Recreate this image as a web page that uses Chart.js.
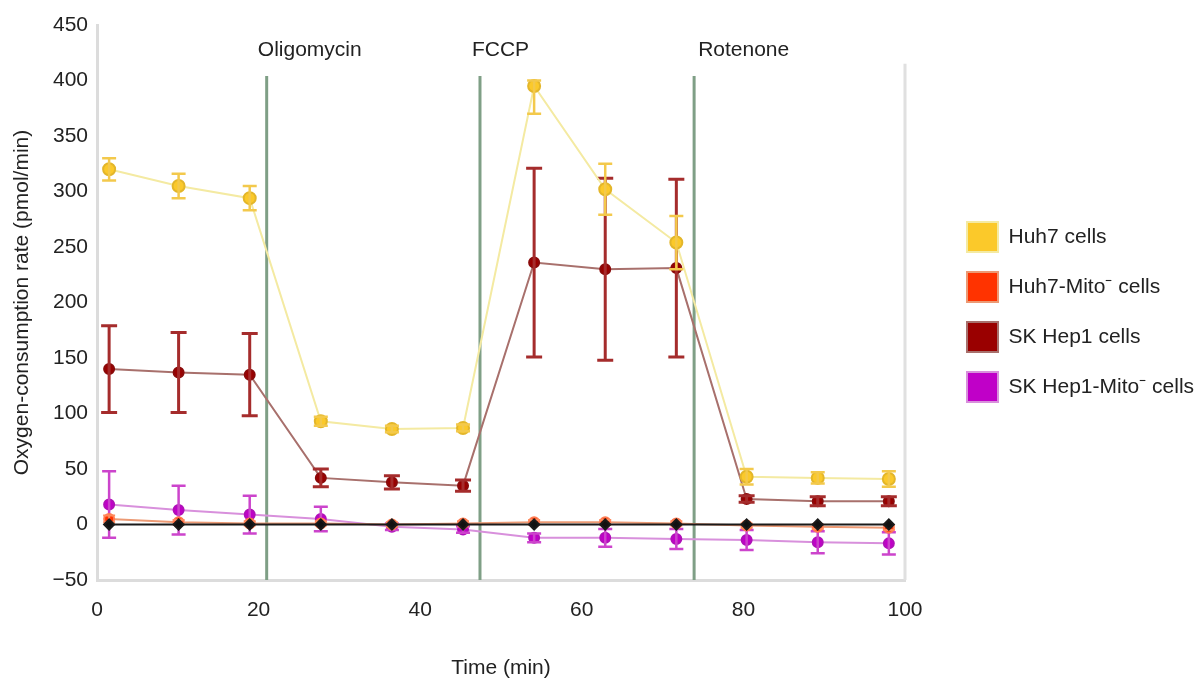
<!DOCTYPE html>
<html>
<head>
<meta charset="utf-8">
<script src="https://cdn.jsdelivr.net/npm/chart.js@4.4.1/dist/chart.umd.min.js"></script>
<style>
  html, body { margin: 0; padding: 0; background: #fff; }
  #wrap { width: 1201px; height: 681px; }
</style>
</head>
<body>
<div id="wrap"><canvas id="chart" width="1201" height="681"></canvas></div>
<script>
// measurement times (min)
const times = [1.5, 10.1, 18.9, 27.7, 36.5, 45.3, 54.1, 62.9, 71.7, 80.4, 89.2, 98.0];

// oxygen consumption (pmol/min) and error bars
const huh7 = [320, 305, 294, 93, 86, 87, 395, 302, 254, 43, 42, 41];
const huh7ErrLow = [10, 11, 11, 4, 3, 3, 25, 23, 24, 7, 5, 7];
const huh7ErrHigh = [10, 11, 11, 4, 3, 3, 5, 23, 24, 7, 5, 7];

const huh7Mito = [5, 2, 1, 1, 0, 1, 2, 2, 1, -1, -2, -3];
const huh7MitoErr = [3, 2, 2, 2, 2, 2, 2, 2, 2, 2, 2, 2];

const skHep1 = [140, 137, 135, 42, 38, 35, 236, 230, 231, 23, 21, 21];
const skHep1Err = [39, 36, 37, 8, 6, 5, 85, 82, 80, 3, 4, 4];

const skHep1Mito = [18, 13, 9, 5, -2, -4.5, -12, -12, -13, -14, -16, -17];
const skHep1MitoErr = [30, 22, 17, 11, 3, 3, 4, 8, 9, 9, 10, 10];

const blank = [0, 0, 0, 0, 0, 0, 0, 0, 0, 0, 0, 0];

// injections
const injectionNames = ["Oligomycin", "FCCP", "Rotenone"];
const injectionTimes = [21.0, 47.4, 73.9];
const injectionLabelTimes = [19.9, 46.4, 74.4];

const FONT = '"Liberation Sans", Arial, sans-serif';

const toPoints = vals => vals.map((v, i) => ({ x: times[i], y: v }));

// vertical error bars, drawn through the scales
const errorBars = {
  id: "errorBars",
  afterDatasetDraw(chart, args) {
    const ds = chart.data.datasets[args.index];
    if (!ds.errLow) return;
    const { ctx } = chart;
    const y = chart.scales.y;
    ctx.save();
    ctx.strokeStyle = ds.errColor;
    ctx.lineWidth = ds.errWidth;
    args.meta.data.forEach((pt, i) => {
      const v = ds.data[i].y;
      const top = y.getPixelForValue(v + ds.errHigh[i]);
      const bot = y.getPixelForValue(v - ds.errLow[i]);
      const w = ds.capWidth / 2;
      ctx.beginPath();
      ctx.moveTo(pt.x, top); ctx.lineTo(pt.x, bot);
      ctx.moveTo(pt.x - w, top); ctx.lineTo(pt.x + w, top);
      ctx.moveTo(pt.x - w, bot); ctx.lineTo(pt.x + w, bot);
      ctx.stroke();
    });
    ctx.restore();
  }
};

// injection markers + right frame line
const injections = {
  id: "injections",
  beforeDatasetsDraw(chart) {
    const { ctx, chartArea, scales: { x, y } } = chart;
    ctx.save();
    ctx.strokeStyle = "#e0e0e0";
    ctx.lineWidth = 3;
    ctx.beginPath();
    ctx.moveTo(chartArea.right, y.getPixelForValue(415));
    ctx.lineTo(chartArea.right, chartArea.bottom);
    ctx.stroke();

    ctx.strokeStyle = "#7f9f86";
    ctx.lineWidth = 3;
    injectionTimes.forEach(t => {
      const px = x.getPixelForValue(t);
      ctx.beginPath();
      ctx.moveTo(px, y.getPixelForValue(404));
      ctx.lineTo(px, chartArea.bottom);
      ctx.stroke();
    });
    ctx.fillStyle = "#222";
    ctx.font = "21px " + FONT;
    ctx.textBaseline = "middle";
    ctx.textAlign = "left";
    injectionNames.forEach((name, i) => {
      ctx.fillText(name, x.getPixelForValue(injectionLabelTimes[i]), y.getPixelForValue(427));
    });
    ctx.restore();
  }
};

const ctx = document.getElementById("chart").getContext("2d");

new Chart(ctx, {
  type: "line",
  data: {
    datasets: [
      {
        label: "Huh7 cells",
        data: toPoints(huh7),
        errLow: huh7ErrLow, errHigh: huh7ErrHigh,
        errColor: "#f3c94c", errWidth: 2.5, capWidth: 14,
        borderColor: "#f4eaa2",
        backgroundColor: "#fbc92a",
        pointBorderColor: "#e3b62a",
        pointRadius: 6,
        borderWidth: 2
      },
      {
        label: "Background",
        data: toPoints(blank),
        borderColor: "#1a1a1a",
        backgroundColor: "#111",
        pointStyle: "rectRot",
        pointRadius: 5,
        borderWidth: 2
      },
      {
        label: "Huh7-Mito\u207B cells",
        data: toPoints(huh7Mito),
        errLow: huh7MitoErr, errHigh: huh7MitoErr,
        errColor: "#ff8a5c", errWidth: 2, capWidth: 12,
        borderColor: "#ec9a74",
        backgroundColor: "#ff3300",
        pointBorderColor: "#ff7a50",
        pointRadius: 5,
        borderWidth: 2
      },
      {
        label: "SK Hep1 cells",
        data: toPoints(skHep1),
        errLow: skHep1Err, errHigh: skHep1Err,
        errColor: "#a52c2c", errWidth: 3, capWidth: 16,
        borderColor: "#a8706c",
        backgroundColor: "#9a0000",
        pointBorderColor: "#8a0a0a",
        pointRadius: 5,
        borderWidth: 2
      },
      {
        label: "SK Hep1-Mito\u207B cells",
        data: toPoints(skHep1Mito),
        errLow: skHep1MitoErr, errHigh: skHep1MitoErr,
        errColor: "#cc44cc", errWidth: 2.5, capWidth: 14,
        borderColor: "#d890dc",
        backgroundColor: "#c000c8",
        pointBorderColor: "#b010b8",
        pointRadius: 5,
        borderWidth: 2
      }
    ]
  },
  options: {
    responsive: false,
    animation: false,
    layout: { padding: { top: 25, left: 6, right: 0, bottom: 0 } },
    plugins: {
      tooltip: { enabled: false },
      legend: {
        position: "right",
        fullSize: false,
        maxWidth: 254,
        title: { display: true, text: "", padding: 0, font: { size: 16 } },
        labels: {
          filter: item => item.text !== "Background",
          boxWidth: 31,
          boxHeight: 30,
          padding: 20,
          color: "#222",
          font: { family: FONT, size: 21 }
        }
      }
    },
    scales: {
      x: {
        type: "linear",
        min: 0,
        max: 100,
        grid: { display: false, drawTicks: false },
        border: { color: "#dcdcdc", width: 3 },
        ticks: {
          stepSize: 20,
          padding: 18,
          color: "#222",
          font: { family: FONT, size: 21 }
        },
        title: {
          display: true,
          text: "Time (min)",
          color: "#222",
          padding: { top: 0, bottom: 0 },
          font: { family: FONT, size: 21 }
        },
        afterFit: s => { s.height = 101; }
      },
      y: {
        min: -50,
        max: 450,
        grid: { display: false, drawTicks: false },
        border: { color: "#dcdcdc", width: 3 },
        ticks: {
          stepSize: 50,
          padding: 9,
          color: "#222",
          font: { family: FONT, size: 21 },
          callback: v => (v < 0 ? "\u2212" + Math.abs(v) : v)
        },
        title: {
          display: true,
          text: "Oxygen-consumption rate (pmol/min)",
          color: "#222",
          padding: { top: 4, bottom: 4 },
          font: { family: FONT, size: 21 }
        },
        afterFit: s => { s.width = 91; }
      },
      gap: {
        position: "right",
        display: true,
        grid: { display: false, drawTicks: false },
        border: { display: false },
        ticks: { display: false },
        afterFit: s => { s.width = 42; }
      }
    },
    elements: { line: { tension: 0 }, point: { borderWidth: 1 } }
  },
  plugins: [injections, errorBars]
});
</script>
</body>
</html>
